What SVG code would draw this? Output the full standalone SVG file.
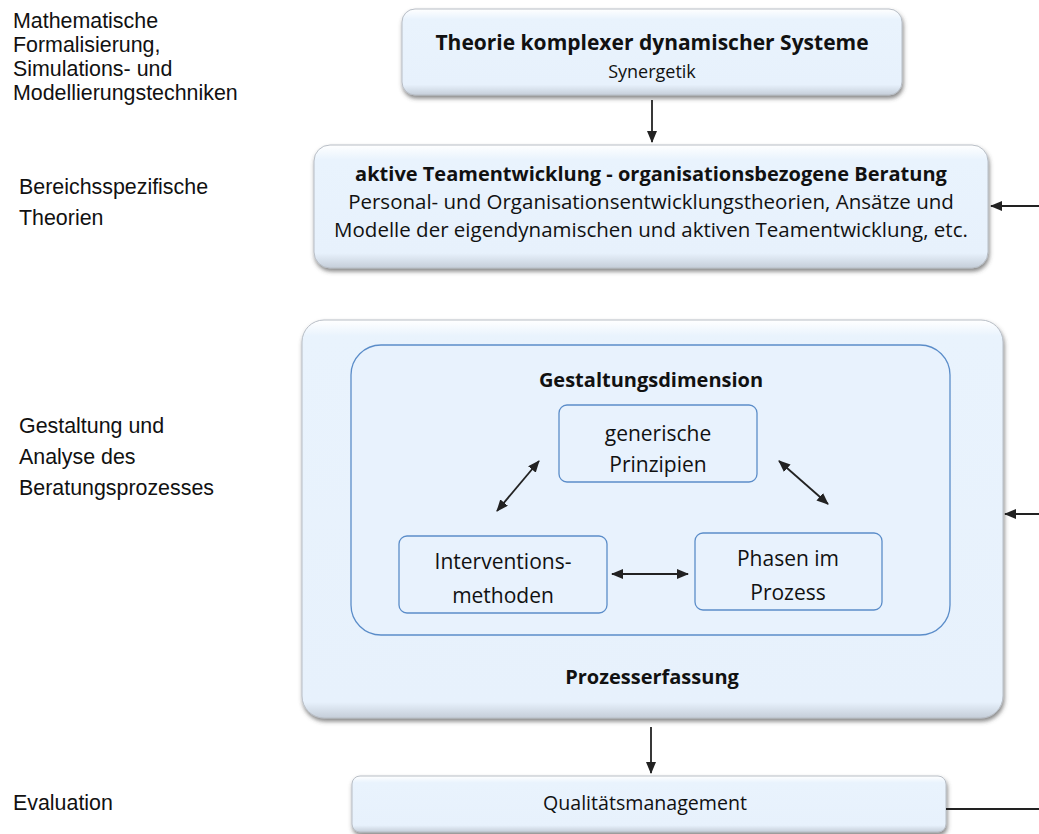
<svg xmlns="http://www.w3.org/2000/svg" width="1039" height="834" viewBox="0 0 1039 834">
<defs>
<linearGradient id="g" x1="0" y1="0" x2="0" y2="1">
<stop offset="0" stop-color="#ffffff"/>
<stop offset="0.12" stop-color="#e9f3fd"/>
<stop offset="0.88" stop-color="#e7f1fc"/>
<stop offset="1" stop-color="#c5ced9"/>
</linearGradient>
<linearGradient id="gb" x1="0" y1="0" x2="0" y2="1">
<stop offset="0" stop-color="#ffffff"/>
<stop offset="0.04" stop-color="#e9f3fd"/>
<stop offset="0.96" stop-color="#e7f1fc"/>
<stop offset="1" stop-color="#c5ced9"/>
</linearGradient>
<filter id="sh" x="-5%" y="-10%" width="110%" height="130%">
<feDropShadow dx="1" dy="3" stdDeviation="2" flood-color="#444" flood-opacity="0.65"/>
</filter>
<marker id="ah" viewBox="0 0 12 10" refX="11" refY="5" markerWidth="12" markerHeight="10" markerUnits="userSpaceOnUse" orient="auto-start-reverse">
<path d="M0,0 L12,5 L0,10 z" fill="#222"/>
</marker>
<style>
text{font-family:"Open Sans","Noto Sans","Liberation Sans",sans-serif;fill:#111}
.lab{font-family:"Liberation Sans",Arial,sans-serif;font-size:21.4px}
.c{text-anchor:middle}
.b{font-weight:bold}
.big{fill:url(#g);stroke:#b8bec6;stroke-width:1;filter:url(#sh)}
.bigb{fill:url(#gb);stroke:#b8bec6;stroke-width:1;filter:url(#sh)}
.in{fill:#e8f2fd;stroke:#5b8dc9;stroke-width:1.3}
.ln{stroke:#222;stroke-width:1.8;fill:none}
</style>
</defs>
<g id="labels">
<text class="lab" x="13" y="28">Mathematische</text>
<text class="lab" x="13" y="52">Formalisierung,</text>
<text class="lab" x="13" y="76">Simulations- und</text>
<text class="lab" x="13" y="100">Modellierungstechniken</text>
<text class="lab" x="19" y="194">Bereichsspezifische</text>
<text class="lab" x="19" y="225">Theorien</text>
<text class="lab" x="19" y="433">Gestaltung und</text>
<text class="lab" x="19" y="464">Analyse des</text>
<text class="lab" x="19" y="495">Beratungsprozesses</text>
<text class="lab" x="13" y="810">Evaluation</text>
</g>
<g id="theorie">
<rect class="big" x="402" y="9" width="500" height="86" rx="13"/>
<text class="c b" x="652" y="50" font-size="21">Theorie komplexer dynamischer Systeme</text>
<text class="c" x="652" y="78" font-size="18">Synergetik</text>
</g>
<g id="teamentwicklung">
<rect class="big" x="314" y="145" width="674" height="123" rx="16"/>
<text class="c b" x="651" y="181" font-size="20">aktive Teamentwicklung - organisationsbezogene Beratung</text>
<text class="c" x="651" y="209" font-size="20.5">Personal- und Organisationsentwicklungstheorien, Ansätze und</text>
<text class="c" x="651" y="237" font-size="20.5">Modelle der eigendynamischen und aktiven Teamentwicklung, etc.</text>
</g>
<g id="prozess">
<rect class="bigb" x="302" y="320" width="701" height="398" rx="22"/>
<rect class="in" x="351" y="345" width="599" height="290" rx="30"/>
<text class="c b" x="651" y="387" font-size="20">Gestaltungsdimension</text>
<text class="c b" x="652" y="684" font-size="20">Prozesserfassung</text>
</g>
<g id="prinzipien">
<rect class="in" x="559" y="405" width="198" height="77" rx="8"/>
<text class="c" x="658" y="441" font-size="21">generische</text>
<text class="c" x="658" y="472" font-size="21">Prinzipien</text>
</g>
<g id="interventionsmethoden">
<rect class="in" x="399" y="536" width="208" height="77" rx="8"/>
<text class="c" x="503" y="569" font-size="21">Interventions-</text>
<text class="c" x="503" y="603" font-size="21">methoden</text>
</g>
<g id="phasen">
<rect class="in" x="695" y="533" width="187" height="77" rx="8"/>
<text class="c" x="788" y="566" font-size="21">Phasen im</text>
<text class="c" x="788" y="600" font-size="21">Prozess</text>
</g>
<g id="qualitaet">
<rect class="big" x="352" y="776" width="594" height="56" rx="8"/>
<text class="c" x="645" y="810" font-size="19.6">Qualitätsmanagement</text>
</g>
<g id="connectors">
<line class="ln" x1="652" y1="100" x2="652" y2="142" marker-end="url(#ah)"/>
<line class="ln" x1="1039" y1="206" x2="991" y2="206" marker-end="url(#ah)"/>
<line class="ln" x1="1039" y1="514" x2="1005" y2="514" marker-end="url(#ah)"/>
<line class="ln" x1="651" y1="727" x2="651" y2="773" marker-end="url(#ah)"/>
<line class="ln" x1="946" y1="809" x2="1039" y2="809"/>
<line class="ln" x1="497" y1="511" x2="539" y2="461" marker-start="url(#ah)" marker-end="url(#ah)"/>
<line class="ln" x1="779" y1="461" x2="828" y2="504" marker-start="url(#ah)" marker-end="url(#ah)"/>
<line class="ln" x1="612" y1="574" x2="688" y2="574" marker-start="url(#ah)" marker-end="url(#ah)"/>
</g>
</svg>
